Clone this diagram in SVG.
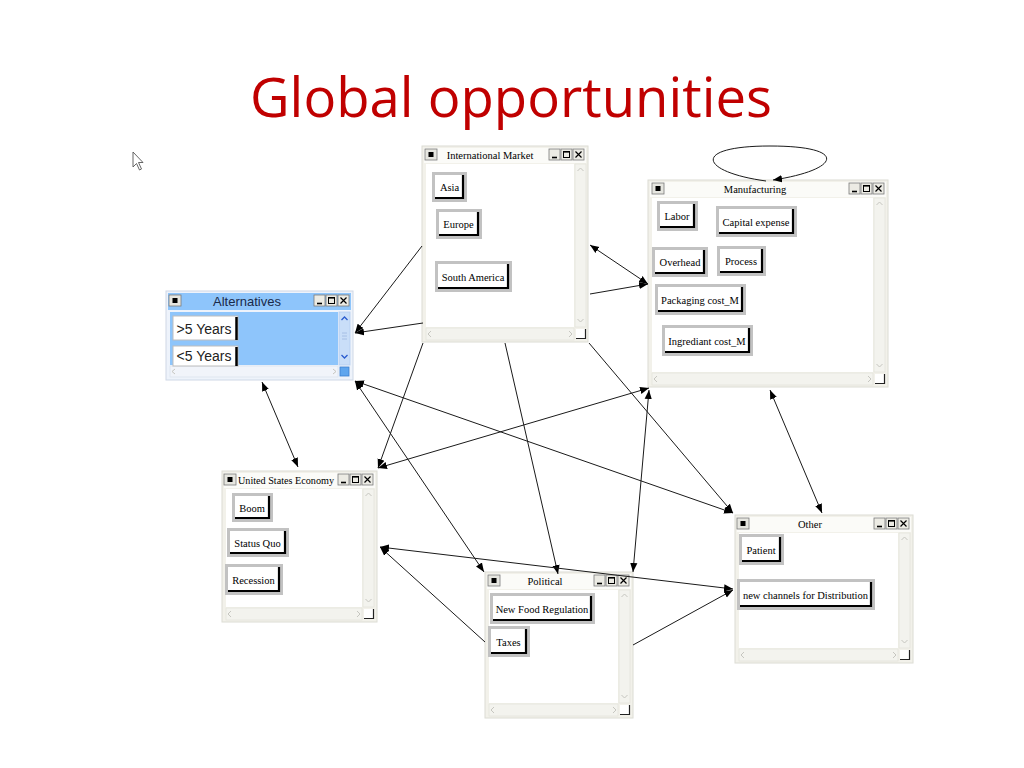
<svg xmlns="http://www.w3.org/2000/svg" xmlns:xlink="http://www.w3.org/1999/xlink" width="1024" height="768" viewBox="0 0 1024 768">
<style>
.frame{fill:#f2f1ea;stroke:#dcdcd4;stroke-width:1}
.tbar{fill:#fbfbf8}
.body{fill:#ffffff}
.sb{fill:#f3f3ee;stroke:#e4e4dc;stroke-width:0.8}
.chev{fill:none;stroke:#c6c6c0;stroke-width:1}
.ttl{font-family:"Liberation Serif",serif;font-size:10.5px;fill:#000}
.bo{fill:#c2c2c2}
.bi{fill:#ffffff}
.bs{fill:none;stroke:#000;stroke-width:2.2}
.bt{font-family:"Liberation Serif",serif;font-size:10.5px;fill:#000;text-anchor:middle}
.cb{fill:#ecebe4;stroke:#7a7a7a;stroke-width:0.8}
.conn{fill:none;stroke:#1a1a1a;stroke-width:1}
.title{font-family:"Open Sans","Noto Sans",sans-serif;font-size:54px;fill:#c00000;text-anchor:middle}
</style>
<defs>
<marker id="ah" viewBox="0 0 10 10" refX="10" refY="5" markerWidth="9" markerHeight="9" markerUnits="userSpaceOnUse" orient="auto-start-reverse">
<path d="M0,1 L10,5 L0,9 z" fill="#000"/>
</marker>
<g id="ctl">
<rect class="cb" x="0" y="0" width="11" height="11"/>
<path d="M3,8.5 H8" stroke="#000" stroke-width="1.6"/>
<rect class="cb" x="12" y="0" width="11" height="11"/>
<rect x="14.5" y="2.5" width="6" height="6" fill="none" stroke="#000" stroke-width="1"/>
<path d="M14.5,3 H20.5" stroke="#000" stroke-width="1.2"/>
<rect class="cb" x="24" y="0" width="11" height="11"/>
<path d="M26.5,2.5 L32.5,8.5 M32.5,2.5 L26.5,8.5" stroke="#000" stroke-width="1.2"/>
</g>
<g id="ico">
<rect x="0" y="0" width="12" height="11" fill="#e6e6e0" stroke="#7a7a7a" stroke-width="0.8"/>
<rect x="3.5" y="3" width="5" height="5" fill="#000"/>
</g>
<g id="corner">
<rect x="0" y="0" width="10" height="10" fill="#fff"/>
<path d="M9.5,0 V9.5 H0" fill="none" stroke="#222" stroke-width="1.2"/>
</g>
</defs>
<rect width="1024" height="768" fill="#ffffff"/>
<text class="title" x="511" y="117" textLength="522" lengthAdjust="spacingAndGlyphs">Global opportunities</text>
<g id="cursor" transform="translate(133,152)">
<path d="M0,0 V15 L3.5,11.5 L6.5,18 L8.5,17 L5.5,10.5 H10 Z" fill="#fff" stroke="#555" stroke-width="0.9"/>
</g>

<g id="intl-market">
<rect class="frame" x="422" y="146" width="166" height="196"/>
<rect class="tbar" x="424" y="148" width="162" height="15"/>
<use xlink:href="#ico" x="425" y="149"/>
<text class="ttl" x="490" y="158.5" text-anchor="middle">International Market</text>
<use xlink:href="#ctl" x="549" y="149"/>
<rect class="body" x="426" y="164" width="148" height="163"/>
<rect class="sb" x="575" y="164" width="11" height="163"/>
<path class="chev" d="M577.5,171 L580.5,168 L583.5,171 M577.5,319 L580.5,322 L583.5,319"/>
<rect class="sb" x="426" y="328" width="148" height="12"/>
<path class="chev" d="M431,331 L428,334 L431,337 M569,331 L572,334 L569,337"/>
<use xlink:href="#corner" x="576" y="329"/>
<rect class="bo" x="432" y="172" width="35" height="30"/><rect class="bi" x="435" y="175" width="29" height="24"/><path class="bs" d="M463,175 V198 H435"/><text class="bt" x="449.5" y="191">Asia</text>
<rect class="bo" x="436" y="209" width="46" height="30"/><rect class="bi" x="439" y="212" width="40" height="24"/><path class="bs" d="M478,212 V235 H439"/><text class="bt" x="458.5" y="228">Europe</text>
<rect class="bo" x="435" y="261" width="77" height="31"/><rect class="bi" x="438" y="264" width="71" height="25"/><path class="bs" d="M508,264 V288 H438"/><text class="bt" x="473" y="280.5">South America</text>
</g>

<g id="manufacturing">
<rect class="frame" x="648" y="180" width="240" height="207"/>
<rect class="tbar" x="650" y="182" width="236" height="15"/>
<use xlink:href="#ico" x="652" y="183"/>
<text class="ttl" x="755" y="193" text-anchor="middle">Manufacturing</text>
<use xlink:href="#ctl" x="849" y="183"/>
<rect class="body" x="652" y="198" width="221" height="174"/>
<rect class="sb" x="874" y="198" width="11" height="174"/>
<path class="chev" d="M876.5,205 L879.5,202 L882.5,205 M876.5,364 L879.5,367 L882.5,364"/>
<rect class="sb" x="652" y="373" width="221" height="12"/>
<path class="chev" d="M657,376 L654,379 L657,382 M868,376 L871,379 L868,382"/>
<use xlink:href="#corner" x="875" y="374"/>
<rect class="bo" x="657" y="201" width="41" height="30"/><rect class="bi" x="660" y="204" width="35" height="24"/><path class="bs" d="M694,204 V227 H660"/><text class="bt" x="677" y="220">Labor</text>
<rect class="bo" x="716" y="206" width="81" height="31"/><rect class="bi" x="719" y="209" width="75" height="25"/><path class="bs" d="M793,209 V233 H719"/><text class="bt" x="756" y="225.5">Capital expense</text>
<rect class="bo" x="652" y="247" width="56" height="30"/><rect class="bi" x="655" y="250" width="50" height="24"/><path class="bs" d="M704,250 V273 H655"/><text class="bt" x="680" y="266">Overhead</text>
<rect class="bo" x="717" y="246" width="49" height="30"/><rect class="bi" x="720" y="249" width="43" height="24"/><path class="bs" d="M762,249 V272 H720"/><text class="bt" x="741" y="265">Process</text>
<rect class="bo" x="655" y="284" width="91" height="31"/><rect class="bi" x="658" y="287" width="85" height="25"/><path class="bs" d="M742,287 V311 H658"/><text class="bt" x="700" y="303.5">Packaging cost_M</text>
<rect class="bo" x="662" y="325" width="91" height="31"/><rect class="bi" x="665" y="328" width="85" height="25"/><path class="bs" d="M749,328 V352 H665"/><text class="bt" x="707" y="344.5">Ingrediant cost_M</text>
</g>

<g id="alternatives">
<rect x="166" y="291" width="187" height="89" fill="#eef3fb" stroke="#cfd8e6" stroke-width="1"/>
<rect x="168" y="293" width="183" height="17" fill="#8ec5fb"/>
<use xlink:href="#ico" x="169" y="295"/>
<text x="247" y="305.5" text-anchor="middle" font-family="Liberation Sans, Arial, sans-serif" font-size="13" fill="#1a2a4a">Alternatives</text>
<use xlink:href="#ctl" x="314" y="295"/>
<rect x="170" y="312" width="168" height="53" fill="#8ec5fb"/>
<rect x="339" y="312" width="11" height="53" fill="#c9def8" stroke="#b5cdf0" stroke-width="0.8"/>
<path d="M341.5,320 L344.5,317 L347.5,320 M341.5,355 L344.5,358 L347.5,355" fill="none" stroke="#2a5ccf" stroke-width="1.3"/>
<path d="M342,333 H347 M342,336 H347 M342,339 H347" stroke="#9fb8e0" stroke-width="0.8"/>
<rect x="170" y="366" width="168" height="11" fill="#f1f4fa" stroke="#dde3ee" stroke-width="0.8"/>
<path class="chev" d="M175,369 L172,371.5 L175,374 M333,369 L336,371.5 L333,374"/>
<rect x="340" y="367" width="9" height="9" fill="#5fa6ee" stroke="#3a7fd0" stroke-width="0.8"/>
<rect x="173" y="316" width="65" height="24" fill="#ffffff" stroke="#bdbdbd" stroke-width="1"/>
<path d="M236.5,317 V340" stroke="#000" stroke-width="2.5"/>
<text x="204" y="333.5" text-anchor="middle" font-family="Liberation Sans, Arial, sans-serif" font-size="14" fill="#222">&gt;5 Years</text>
<rect x="173" y="346" width="65" height="20" fill="#ffffff" stroke="#bdbdbd" stroke-width="1"/>
<path d="M236.5,347 V366" stroke="#000" stroke-width="2.5"/>
<text x="204" y="361" text-anchor="middle" font-family="Liberation Sans, Arial, sans-serif" font-size="14" fill="#222">&lt;5 Years</text>
</g>

<g id="us-economy">
<rect class="frame" x="222" y="471" width="155" height="151"/>
<rect class="tbar" x="224" y="473" width="151" height="15"/>
<use xlink:href="#ico" x="224" y="474"/>
<text class="ttl" x="238" y="484" textLength="96" lengthAdjust="spacingAndGlyphs">United States Economy</text>
<use xlink:href="#ctl" x="338" y="474"/>
<rect class="body" x="226" y="489" width="136" height="118"/>
<rect class="sb" x="363" y="489" width="11" height="118"/>
<path class="chev" d="M365.5,496 L368.5,493 L371.5,496 M365.5,599 L368.5,602 L371.5,599"/>
<rect class="sb" x="226" y="608" width="136" height="12"/>
<path class="chev" d="M231,611 L228,614 L231,617 M357,611 L360,614 L357,617"/>
<use xlink:href="#corner" x="364" y="609"/>
<rect class="bo" x="232" y="493" width="41" height="29"/><rect class="bi" x="235" y="496" width="35" height="23"/><path class="bs" d="M269,496 V518 H235"/><text class="bt" x="252" y="511.5">Boom</text>
<rect class="bo" x="227" y="528" width="62" height="29"/><rect class="bi" x="230" y="531" width="56" height="23"/><path class="bs" d="M285,531 V553 H230"/><text class="bt" x="257.5" y="546.5">Status Quo</text>
<rect class="bo" x="225" y="564" width="58" height="31"/><rect class="bi" x="228" y="567" width="52" height="25"/><path class="bs" d="M279,567 V591 H228"/><text class="bt" x="253.5" y="583.5">Recession</text>
</g>

<g id="political">
<rect class="frame" x="485" y="572" width="148" height="146"/>
<rect class="tbar" x="487" y="574" width="144" height="15"/>
<use xlink:href="#ico" x="488" y="575"/>
<text class="ttl" x="545" y="585" text-anchor="middle">Political</text>
<use xlink:href="#ctl" x="594" y="575"/>
<rect class="body" x="489" y="590" width="129" height="113"/>
<rect class="sb" x="619" y="590" width="11" height="113"/>
<path class="chev" d="M621.5,597 L624.5,594 L627.5,597 M621.5,695 L624.5,698 L627.5,695"/>
<rect class="sb" x="489" y="704" width="129" height="12"/>
<path class="chev" d="M494,707 L491,710 L494,713 M613,707 L616,710 L613,713"/>
<use xlink:href="#corner" x="620" y="705"/>
<rect class="bo" x="490" y="593" width="105" height="31"/><rect class="bi" x="493" y="596" width="99" height="25"/><path class="bs" d="M591,596 V620 H493"/><text class="bt" x="542" y="612.5">New Food Regulation</text>
<rect class="bo" x="488" y="626" width="42" height="31"/><rect class="bi" x="491" y="629" width="36" height="25"/><path class="bs" d="M526,629 V653 H491"/><text class="bt" x="508.5" y="645.5">Taxes</text>
</g>

<g id="other">
<rect class="frame" x="735" y="515" width="178" height="148"/>
<rect class="tbar" x="737" y="517" width="174" height="15"/>
<use xlink:href="#ico" x="737" y="518"/>
<text class="ttl" x="810" y="528" text-anchor="middle">Other</text>
<use xlink:href="#ctl" x="874" y="518"/>
<rect class="body" x="739" y="533" width="159" height="115"/>
<rect class="sb" x="899" y="533" width="11" height="115"/>
<path class="chev" d="M901.5,540 L904.5,537 L907.5,540 M901.5,640 L904.5,643 L907.5,640"/>
<rect class="sb" x="739" y="649" width="159" height="12"/>
<path class="chev" d="M744,652 L741,655 L744,658 M893,652 L896,655 L893,658"/>
<use xlink:href="#corner" x="900" y="650"/>
<rect class="bo" x="739" y="534" width="45" height="31"/><rect class="bi" x="742" y="537" width="39" height="25"/><path class="bs" d="M780,537 V561 H742"/><text class="bt" x="761" y="553.5">Patient</text>
<rect class="bo" x="737" y="579" width="138" height="31"/><rect class="bi" x="740" y="582" width="132" height="25"/><path class="bs" d="M871,582 V606 H740"/><text class="bt" x="805.5" y="598.5">new channels for Distribution</text>
</g>

<g id="connectors">
<path class="conn" d="M422,246 L355,333" marker-end="url(#ah)"/>
<path class="conn" d="M423,323 L355,333" marker-end="url(#ah)"/>
<path class="conn" d="M590,245 L648,284" marker-start="url(#ah)" marker-end="url(#ah)"/>
<path class="conn" d="M590,294 L648,284" marker-end="url(#ah)"/>
<path class="conn" d="M423,343 L378,468" marker-end="url(#ah)"/>
<path class="conn" d="M505,343 L558,574" marker-end="url(#ah)"/>
<path class="conn" d="M589,343 L733,513" marker-end="url(#ah)"/>
<path class="conn" d="M355,381 L733,513" marker-start="url(#ah)" marker-end="url(#ah)"/>
<path class="conn" d="M355,381 L484,572" marker-start="url(#ah)" marker-end="url(#ah)"/>
<path class="conn" d="M262,382 L298,467" marker-start="url(#ah)" marker-end="url(#ah)"/>
<path class="conn" d="M378,468 L649,388" marker-start="url(#ah)" marker-end="url(#ah)"/>
<path class="conn" d="M649,390 L633,572" marker-start="url(#ah)" marker-end="url(#ah)"/>
<path class="conn" d="M770,390 L822,513" marker-start="url(#ah)" marker-end="url(#ah)"/>
<path class="conn" d="M485,642 L380,547" marker-end="url(#ah)"/>
<path class="conn" d="M380,547 L733,589" marker-start="url(#ah)" marker-end="url(#ah)"/>
<path class="conn" d="M633,645 L733,590" marker-end="url(#ah)"/>
<path class="conn" d="M766,181 C700,172 690,146 770,146 C850,146 840,170 773,180" marker-end="url(#ah)"/>
</g>
</svg>
